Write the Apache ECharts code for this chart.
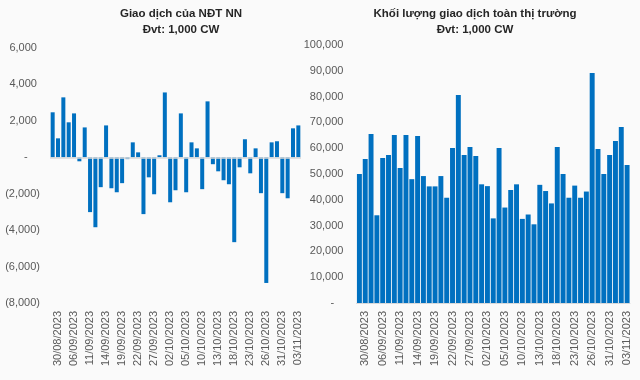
<!DOCTYPE html>
<html>
<head>
<meta charset="utf-8">
<script src="https://cdn.jsdelivr.net/npm/echarts@6/dist/echarts.min.js"></script>
<style>
html,body{margin:0;padding:0;background:#fafafa;}
#c{width:640px;height:380px;}
</style>
</head>
<body>
<div id="c"></div>
<script>
const dates = ["29/08/2023","30/08/2023","31/08/2023","05/09/2023","06/09/2023","07/09/2023","08/09/2023","11/09/2023","12/09/2023","13/09/2023","14/09/2023","15/09/2023","18/09/2023","19/09/2023","20/09/2023","21/09/2023","22/09/2023","25/09/2023","26/09/2023","27/09/2023","28/09/2023","29/09/2023","02/10/2023","03/10/2023","04/10/2023","05/10/2023","06/10/2023","09/10/2023","10/10/2023","11/10/2023","12/10/2023","13/10/2023","16/10/2023","17/10/2023","18/10/2023","19/10/2023","20/10/2023","23/10/2023","24/10/2023","25/10/2023","26/10/2023","27/10/2023","30/10/2023","31/10/2023","01/11/2023","02/11/2023","03/11/2023"];

const foreignNet = [2470,1040,3290,1920,2410,-220,1640,-3010,-3840,-1640,1750,-1700,-1920,-1420,-100,820,270,-3120,-1100,-2030,110,3560,-2470,-1810,2410,-1920,820,490,-1750,3070,-380,-770,-1260,-1480,-4660,-550,990,-880,490,-1970,-6900,820,880,-1970,-2250,1590,1750];

const marketVolume = [50000,55800,65500,34000,56200,57400,65100,52300,65100,48000,64700,49200,45200,45200,49200,40800,60100,80600,57400,60500,57000,46000,45300,32800,60100,37000,43800,46000,32600,34300,30500,45800,43400,38600,60500,50000,40800,45500,40800,43200,89100,59700,50000,57400,62800,68200,53500];

const leftTitle = "Giao dịch của NĐT NN\nĐvt: 1,000 CW";
const rightTitle = "Khối lượng giao dịch toàn thị trường\nĐvt: 1,000 CW";

const FONT = "Liberation Sans";
const LABEL_COLOR = "#595959";
const BAR_COLOR = "#0070c0";

function fmtNum(v){
  return Math.abs(v).toString().replace(/\B(?=(\d{3})+(?!\d))/g, ",");
}
function acct(v){
  if (v === 0) return "-    ";
  if (v < 0) return "(" + fmtNum(v) + ")";
  return fmtNum(v) + " ";
}

const chart = echarts.init(document.getElementById('c'), null, {renderer:'canvas'});
const xLabel = {
  rotate: 90, fontSize: 11, fontFamily: FONT, color: LABEL_COLOR, margin: 8,
  interval: function(i){ return i % 3 === 1; }
};
chart.setOption({
  backgroundColor: '#fafafa',
  animation: false,
  title: [
    {text: leftTitle, left: 176, top: 1, textAlign: 'center',
     textStyle: {fontSize: 11.5, fontWeight: 'bold', fontFamily: FONT, color: '#262626', lineHeight: 16}},
    {text: rightTitle, left: 470, top: 1, textAlign: 'center',
     textStyle: {fontSize: 11.5, fontWeight: 'bold', fontFamily: FONT, color: '#262626', lineHeight: 16}}
  ],
  grid: [
    {left: 50, right: 339, top: 48, bottom: 77, containLabel: false},
    {left: 356.5, right: 10, top: 45, bottom: 77, containLabel: false}
  ],
  xAxis: [
    {type: 'category', gridIndex: 0, data: dates,
     axisLine: {show: false, onZero: false}, axisTick: {show: false}, axisLabel: xLabel},
    {type: 'category', gridIndex: 1, data: dates,
     axisLine: {show: true, onZero: false, lineStyle: {color: '#d9d9d9'}}, axisTick: {show: false}, axisLabel: xLabel}
  ],
  yAxis: [
    {type: 'value', gridIndex: 0, min: -8000, max: 6000, interval: 2000,
     splitLine: {show: false}, axisLine: {show: false}, axisTick: {show: false},
     axisLabel: {formatter: acct, fontSize: 11, fontFamily: FONT, color: LABEL_COLOR, margin: 10}},
    {type: 'value', gridIndex: 1, min: 0, max: 100000, interval: 10000,
     splitLine: {show: false}, axisLine: {show: false}, axisTick: {show: false},
     axisLabel: {formatter: acct, fontSize: 11, fontFamily: FONT, color: LABEL_COLOR, margin: 10}}
  ],
  series: [
    {type: 'bar', xAxisIndex: 0, yAxisIndex: 0, data: foreignNet, barCategoryGap: '25%',
     itemStyle: {color: BAR_COLOR},
     markLine: {silent: true, symbol: 'none', label: {show: false},
       lineStyle: {color: '#d9d9d9', type: 'solid', width: 1.5}, data: [{yAxis: 0}]}},
    {type: 'bar', xAxisIndex: 1, yAxisIndex: 1, data: marketVolume, barCategoryGap: '15%',
     itemStyle: {color: BAR_COLOR}}
  ]
});
</script>
</body>
</html>
